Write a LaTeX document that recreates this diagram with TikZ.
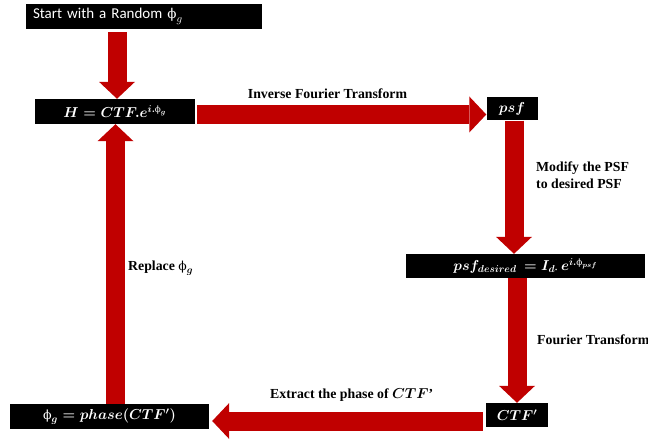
\documentclass[tikz,border=0pt]{standalone}
\usepackage{amsmath}
\usepackage{fontspec}
\setmainfont{Liberation Serif}
\newfontfamily\carlito{Carlito}
\newfontfamily\grk{DejaVu Serif}
\newcommand{\myphi}{\text{\grk\mdseries\fontsize{0.9em}{1em}\selectfont ϕ}}
\usetikzlibrary{arrows.meta,positioning}
\definecolor{arrred}{HTML}{C00000}
\tikzset{
  blackbox/.style={fill=black, text=white, inner sep=0pt, font=\fontsize{14}{16}\selectfont\boldmath},
  bigarrow/.style={draw=arrred, line width=19pt, line cap=butt,
    -{Triangle[length=17pt,width=36pt,line width=0pt]}},
  lbl/.style={font=\fontsize{13.8}{17}\selectfont\bfseries\boldmath, text=black, inner sep=0pt}
}
\begin{document}
\begin{tikzpicture}[x=1pt,y=-1pt]
\useasboundingbox (0,0) rectangle (648,441);
% boxes
\node[blackbox, minimum width=236pt, minimum height=25pt, text width=222pt, align=left, font=\fontsize{15}{17}\selectfont\carlito] (start) at (144,16.5) {Start with a Random $\myphi_g$};
\node[blackbox, minimum width=160pt, minimum height=25pt] (H) at (115,111.5) {$H = CTF.e^{i.\myphi_g}$};
\node[blackbox, minimum width=51pt, minimum height=23pt] (psf) at (512,109) {$psf$};
\node[blackbox, minimum width=239pt, minimum height=24pt] (psfd) at (525.5,266) {$psf_{desired}\, = I_{d\cdot}\,e^{i.\myphi_{psf}}$};
\node[blackbox, minimum width=62pt, minimum height=24pt] (ctf) at (517,415) {$CTF'$};
\node[blackbox, minimum width=199pt, minimum height=25pt] (phig) at (109.5,416.5) {$\myphi_g = phase(CTF')$};
% arrows
\draw[bigarrow] ([xshift=-27pt,yshift=-3pt]start.south) -- ([xshift=2pt]H.north);
\draw[bigarrow] ([xshift=2pt,yshift=-3pt]H.east) -- ([yshift=-5.5pt]psf.west);
\draw[bigarrow] ([xshift=2pt]psf.south) -- ([xshift=-11.5pt]psfd.north);
\draw[bigarrow] ([xshift=-8.5pt]psfd.south) -- (ctf.north);
\draw[bigarrow] ([xshift=-3pt,yshift=-6pt]ctf.west) -- ([xshift=3pt,yshift=-4.5pt]phig.east);
\draw[bigarrow] ([xshift=6pt]phig.north) -- ([xshift=0.5pt]H.south);
% labels
\node[lbl] (l1) at (327.5,94) {Inverse Fourier Transform};
\node[lbl, anchor=west, align=left] (l2) at (536,175.5) {Modify the PSF\\to desired PSF};
\node[lbl, anchor=west] (l3) at (537,340) {Fourier Transform};
\node[lbl, anchor=west] (l4) at (270,395) {Extract the phase of $CTF$'};
\node[lbl, anchor=west] (l5) at (128,268) {Replace $\myphi_g$};
\end{tikzpicture}
\end{document}
